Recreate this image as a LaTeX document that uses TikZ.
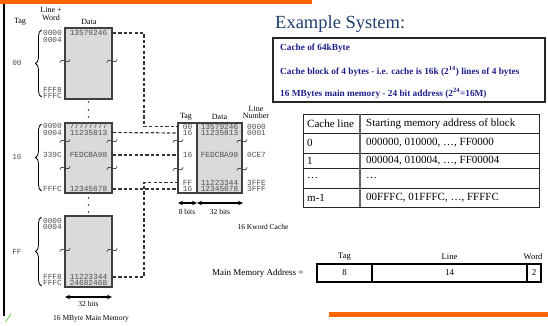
\documentclass[tikz,border=0pt]{standalone}
\usepackage{fontspec}
\setmainfont{Liberation Serif}
\setmonofont{Liberation Mono}
\usetikzlibrary{decorations.pathreplacing,arrows.meta}
\definecolor{barorange}{RGB}{255,102,0}
\definecolor{titleblue}{RGB}{31,63,110}
\definecolor{notenavy}{RGB}{30,30,140}
\definecolor{blockfill}{RGB}{218,218,218}
\definecolor{blockedge}{RGB}{64,64,64}
\definecolor{hexgray}{RGB}{80,80,80}
\definecolor{tickgreen}{RGB}{90,200,60}

\begin{document}
\begin{tikzpicture}[x=1pt,y=-1pt,
  memblock/.style={draw=blockedge,fill=blockfill,line width=1.3pt,inner sep=0,minimum width=47pt},
  hex/.style={font=\fontsize{7.8}{8}\ttfamily,text=hexgray,inner sep=0},
  hexaddr/.style={hex,anchor=east},
  lbl/.style={font=\fontsize{8}{9}\selectfont,inner sep=0},
  dashline/.style={dash pattern=on 3.2pt off 2.2pt,line width=1.2pt,draw=black!80},
  gap/.style={line width=0.6pt,draw=black!75},
  dimarrow/.style={{Stealth[length=5pt,width=4.5pt]}-{Stealth[length=5pt,width=4.5pt]},line width=1.2pt},
  bracefig/.style={decorate,decoration={brace,amplitude=6pt},line width=0.8pt},
  dotmark/.style={circle,fill=black!80,inner sep=0,minimum size=1.6pt},
  notetext/.style={font=\fontsize{9.3}{10}\bfseries,text=notenavy,anchor=west,inner sep=0},
  cell/.style={font=\fontsize{11}{12}\selectfont,anchor=west,inner sep=0},
  field/.style={draw,line width=1.2pt,inner sep=0,minimum height=18pt,font=\fontsize{9}{10}\selectfont},
  gapmark/.pic={\draw[gap] (-5,2) .. controls (-5,-1) and (-3,-1) .. (0,0) .. controls (3,1) and (5,1) .. (5,-2);},
]
\useasboundingbox (0,0) rectangle (548,325);

% page decoration
\fill[barorange] (0,0) rectangle (312,3.5);
\fill[barorange] (329,312) rectangle (548,317);
\draw[line width=2pt] (3.5,3.5) -- (3.5,316);
\draw[tickgreen,line width=0.7pt] (5.5,322) -- (11,314);

% ---------------- main memory ----------------
\node[lbl] (hdtag) at (20,21.5) {Tag};
\node[lbl,align=center] (hdlw) at (51,14) {Line +\\[-1.5pt]Word};
\node[lbl] (hddata) at (89,22) {Data};

\node[memblock,minimum height=71pt] (b1) at (88.5,63.5) {};
\node[memblock,minimum height=70pt] (b2) at (88.5,158) {};
\node[memblock,minimum height=71pt] (b3) at (88.5,251.5) {};

% block 00
\node[hexaddr] at (62,33) {0000};
\node[hexaddr] at (62,39.5) {0004};
\node[hexaddr] at (62,89.5) {FFF8};
\node[hexaddr] at (62,96) {FFFC};
\node[hex] at (88.5,33) {13579246};
% block 16
\node[hexaddr] at (62,126) {0000};
\node[hexaddr] at (62,132.5) {0004};
\node[hexaddr] at (62,155) {339C};
\node[hexaddr] at (62,189) {FFFC};
\node[hex] at (88.5,126) {77777777};
\node[hex] at (88.5,132.5) {11235813};
\node[hex] at (88.5,155) {FEDCBA98};
\node[hex] at (88.5,189) {12345678};
% block FF
\node[hexaddr] at (62,220.5) {0000};
\node[hexaddr] at (62,227) {0004};
\node[hexaddr] at (62,276.5) {FFF8};
\node[hexaddr] at (62,283) {FFFC};
\node[hex] at (88.5,276.5) {11223344};
\node[hex] at (88.5,283) {24682468};

% gaps in the blocks
\foreach \y in {61,141,168,250} {\pic at (65,\y) {gapmark}; \pic at (112,\y) {gapmark};}

% continuation dots
\foreach \y in {102,110,117,198,205,212} \node[dotmark] at (88.5,\y) {};

% tag braces
\draw[bracefig] (41.5,97) -- (41.5,30);
\node[hex] (t00) at (17,63) {00};
\draw[bracefig] (41.5,191) -- (41.5,124);
\node[hex] (t16) at (17,157) {16};
\draw[bracefig] (41.5,286) -- (41.5,217);
\node[hex] (tff) at (17,252) {FF};

\coordinate (w1) at (65,297);
\coordinate (w2) at (112,297);
\draw[dimarrow] (w1) -- (w2);
\node[lbl,font=\fontsize{7.5}{8}\selectfont] at (88.5,304) {32 bits};
\node[lbl,font=\fontsize{7.5}{8}\selectfont] at (91,318.5) {16 MByte Main Memory};

% ---------------- cache ----------------
\node[lbl] at (186,117) {Tag};
\node[lbl] at (219.5,117) {Data};
\node[lbl,align=center] at (256,112.5) {Line\\[-1.5pt]Number};

\node[draw=blockedge,fill=blockfill,line width=1.3pt,inner sep=0,minimum width=45pt,minimum height=70pt] (cdata) at (219.5,158) {};
\node[draw=blockedge,fill=white,line width=1.3pt,inner sep=0,minimum width=19pt,minimum height=70pt] (ctag) at (187.5,158) {};

\foreach \y/\t/\d/\n in {126.5/00/13579246/0000,133/16/11235813/0001,155/16/FEDCBA98/0CE7,182.5/FF/11223344/3FFE,189/16/12345678/3FFF} {
  \node[hex] at (187.5,\y) {\t};
  \node[hex] at (219.5,\y) {\d};
  \node[hex,anchor=west] at (247,\y) {\n};
}
\foreach \y in {141,169} {\pic at (178,\y) {gapmark}; \pic at (242,\y) {gapmark};}

\coordinate (c1) at (178,203);
\coordinate (c2) at (197,203);
\coordinate (c3) at (243,203);
\draw[dimarrow] (c1) -- (c2);
\draw[dimarrow] (c2) -- (c3);
\node[lbl,font=\fontsize{7.5}{8}\selectfont] at (187,211.5) {8 bits};
\node[lbl,font=\fontsize{7.5}{8}\selectfont] at (220,211.5) {32 bits};
\node[lbl,font=\fontsize{7.5}{8}\selectfont] at (263,227) {16 Kword Cache};

% ---------------- mapping connectors ----------------
\coordinate (m1) at (113,33);
\coordinate (m2) at (113,132.5);
\coordinate (m3) at (113,155);
\coordinate (m4) at (113,277);
\coordinate (m5) at (113,189);
\coordinate (k1) at (178,126.5);
\coordinate (k2) at (178,133);
\coordinate (k3) at (178,155);
\coordinate (k4) at (178,182.5);
\coordinate (k5) at (178,189);
\draw[dashline] (m1) -- ++(31,0) |- (k1);
\draw[dashline] (m2) -- (k2);
\draw[dashline] (m3) -- (k3);
\draw[dashline] (m4) -- ++(31,0) |- (k4);
\draw[dashline] (m5) -- (k5);

% ---------------- title and notes ----------------
\node[font=\fontsize{18.5}{20}\selectfont,text=titleblue,anchor=west,inner sep=0] (title) at (275,24) {Example System:};

\node[draw=black!85,line width=1.3pt,minimum width=272pt,minimum height=64pt,inner sep=0] (specbox) at (409,70) {};
\node[notetext] at (280,48) {Cache of 64kByte};
\node[notetext] at (280,71) {Cache block of 4 bytes - i.e. cache is 16k (2\textsuperscript{14}) lines of 4 bytes};
\node[notetext] at (280,93) {16 MBytes main memory - 24 bit address (2\textsuperscript{24}=16M)};

% ---------------- mapping table ----------------
\draw[line width=1pt,draw=black!85] (303,114) rectangle (539,207);
\foreach \y in {133,153,168,188} \draw[line width=1pt,draw=black!85] (303,\y) -- (539,\y);
\draw[line width=2pt,draw=black!60] (360,114) -- (360,207);
\node[cell] at (307,124) {Cache line};
\node[cell] at (366,124) {Starting memory address of block};
\node[cell] at (307,143) {0};
\node[cell] at (366,143) {000000, 010000, \dots, FF0000};
\node[cell] at (307,160.5) {1};
\node[cell] at (366,160.5) {000004, 010004, \dots, FF00004};
\node[cell] at (307,178) {\dots};
\node[cell] at (366,178) {\dots};
\node[cell] at (307,197.5) {m-1};
\node[cell] at (366,197.5) {00FFFC, 01FFFC, \dots, FFFFC};

% ---------------- address format ----------------
\node[lbl,font=\fontsize{9}{10}\selectfont,anchor=west] at (212,273) {Main Memory Address =};
\node[field,minimum width=55pt] (ftag) at (344.5,273) {8};
\node[field,minimum width=155pt] (fline) at (449.5,273) {14};
\node[field,minimum width=14pt] (fword) at (534,273) {2};
\node[lbl,font=\fontsize{8.5}{9}\selectfont] at (ftag |- 0,256.5) {Tag};
\node[lbl,font=\fontsize{8.5}{9}\selectfont] at (fline |- 0,256.5) {Line};
\node[lbl,font=\fontsize{8.5}{9}\selectfont] at (533,256.5) {Word};
\end{tikzpicture}
\end{document}
